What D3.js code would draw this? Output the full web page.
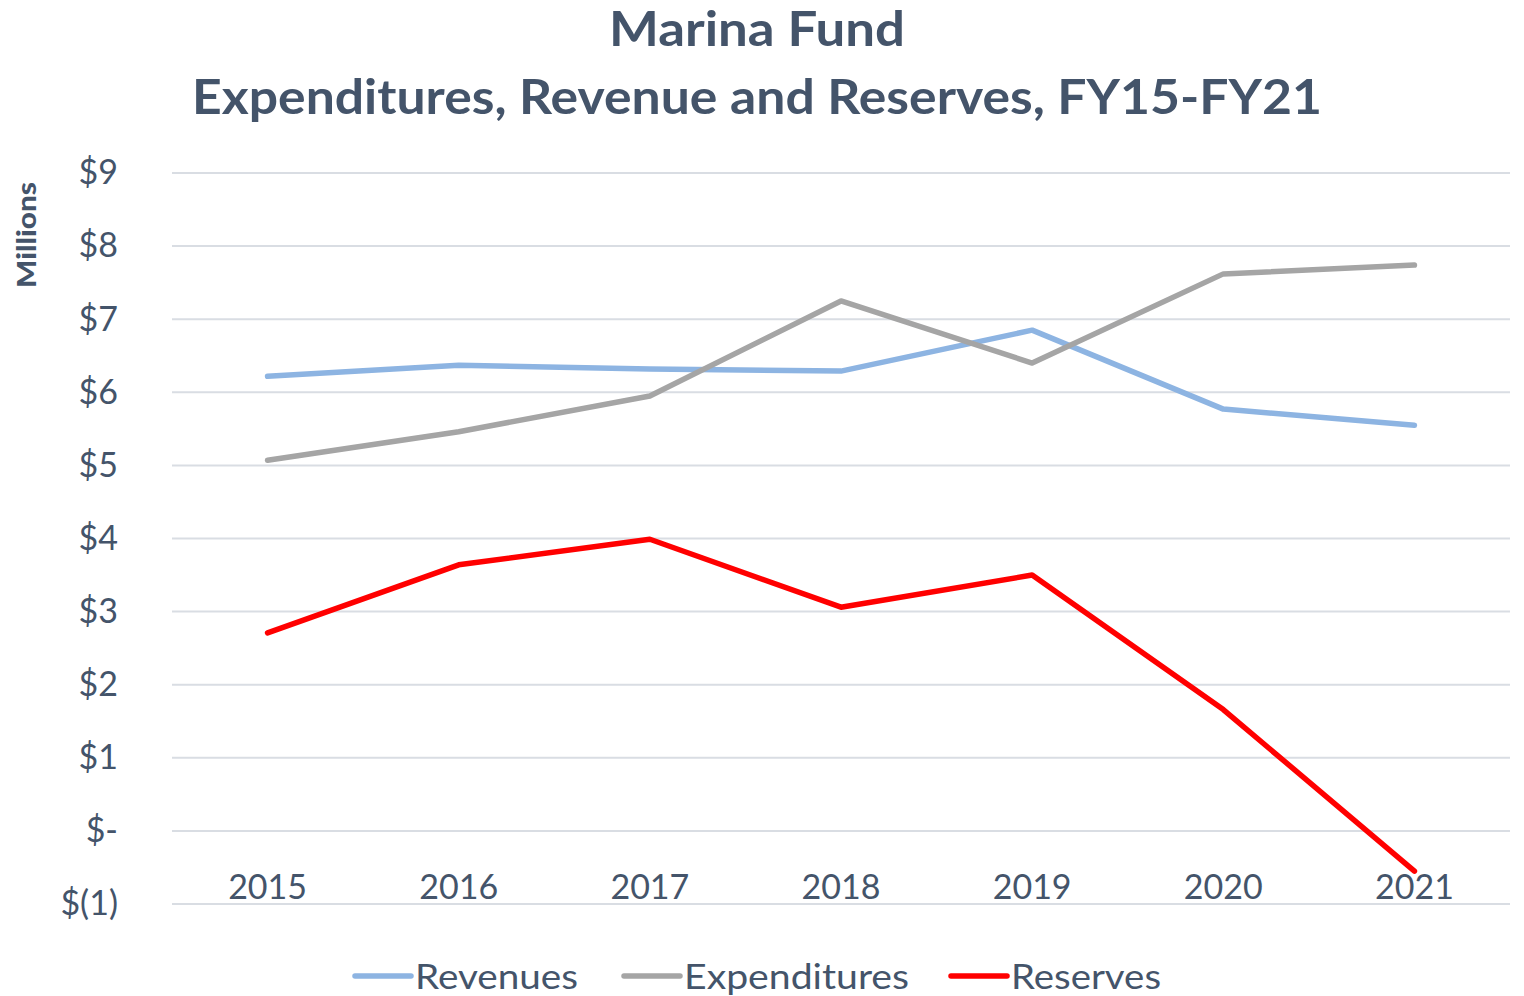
<!DOCTYPE html>
<html>
<head>
<meta charset="utf-8">
<script src="https://cdn.jsdelivr.net/npm/d3@7"></script>
<style>
  body { margin: 0; background: #fff; }
  svg text { font-family: Lato, "Open Sans", sans-serif; fill: #44546A; }
</style>
</head>
<body>
<div id="chart"></div>
<script>
const years = ["2015", "2016", "2017", "2018", "2019", "2020", "2021"];
const revenues = [6.22, 6.37, 6.32, 6.29, 6.85, 5.77, 5.55];
const expenditures = [5.07, 5.46, 5.95, 7.25, 6.40, 7.62, 7.74];
const reserves = [2.71, 3.64, 3.99, 3.06, 3.50, 1.66, -0.55];
const yTicks = [-1, 0, 1, 2, 3, 4, 5, 6, 7, 8, 9];

const seriesNames = ["Revenues", "Expenditures", "Reserves"];
const seriesColors = ["#8DB4E2", "#A5A5A5", "#FF0000"];

const width = 1524, height = 996;
const margin = {top: 173, right: 14, bottom: 92, left: 172};

const svg = d3.select("#chart").append("svg")
    .attr("width", width)
    .attr("height", height);

const xScale = d3.scaleBand()
    .domain(years)
    .range([margin.left, width - margin.right]);
const yScale = d3.scaleLinear()
    .domain([-1, 9])
    .range([height - margin.bottom, margin.top]);

// title
svg.append("text")
    .attr("x", 757).attr("y", 46)
    .attr("text-anchor", "middle")
    .attr("font-size", 48).attr("font-weight", 700)
    .attr("textLength", 296).attr("lengthAdjust", "spacingAndGlyphs")
    .text("Marina Fund");
svg.append("text")
    .attr("x", 757).attr("y", 114)
    .attr("text-anchor", "middle")
    .attr("font-size", 48).attr("font-weight", 700)
    .attr("textLength", 1130).attr("lengthAdjust", "spacingAndGlyphs")
    .text("Expenditures, Revenue and Reserves, FY15-FY21");

// grid
svg.append("g")
    .selectAll("line")
    .data(yTicks)
    .join("line")
    .attr("x1", margin.left).attr("x2", width - margin.right)
    .attr("y1", d => yScale(d)).attr("y2", d => yScale(d))
    .attr("stroke", "#D9DDE3").attr("stroke-width", 2);

// y axis labels
const fmt = d => d === 0 ? "$-" : d < 0 ? `$(${-d})` : `$${d}`;
const yAxis = d3.axisLeft(yScale).tickValues(yTicks).tickFormat(fmt).tickSize(0).tickPadding(0);
svg.append("g")
    .attr("transform", `translate(118, 0)`)
    .call(yAxis)
    .call(g => g.select(".domain").remove())
    .selectAll("text")
    .attr("font-size", 34)
    .attr("fill", "#44546A")
    .style("font-family", "Lato, sans-serif");

// x axis labels
svg.append("g")
    .selectAll("text")
    .data(years)
    .join("text")
    .attr("x", d => xScale(d) + xScale.bandwidth() / 2)
    .attr("y", 899)
    .attr("text-anchor", "middle")
    .attr("font-size", 34)
    .text(d => d);

svg.append("text")
    .attr("transform", "translate(36, 235) rotate(-90)")
    .attr("text-anchor", "middle")
    .attr("font-size", 27).attr("font-weight", 900)
    .attr("textLength", 106).attr("lengthAdjust", "spacingAndGlyphs")
    .text("Millions");

// lines
const line = d3.line()
    .x((d, i) => xScale(years[i]) + xScale.bandwidth() / 2)
    .y(d => yScale(d));

[revenues, expenditures, reserves].forEach((vals, i) => {
    svg.append("path")
        .datum(vals)
        .attr("fill", "none")
        .attr("stroke", seriesColors[i])
        .attr("stroke-width", 5.5)
        .attr("stroke-linejoin", "round")
        .attr("stroke-linecap", "round")
        .attr("d", line);
});

// legend
const legendItems = [
    {x: 355, w: 163},
    {x: 624, w: 225},
    {x: 951, w: 150}
];
const legend = svg.append("g");
legendItems.forEach((it, i) => {
    legend.append("line")
        .attr("x1", it.x).attr("x2", it.x + 56)
        .attr("y1", 976).attr("y2", 976)
        .attr("stroke", seriesColors[i]).attr("stroke-width", 5.5)
        .attr("stroke-linecap", "round");
    legend.append("text")
        .attr("x", it.x + 60).attr("y", 989)
        .attr("font-size", 34)
        .attr("textLength", it.w).attr("lengthAdjust", "spacingAndGlyphs")
        .text(seriesNames[i]);
});
</script>
</body>
</html>
